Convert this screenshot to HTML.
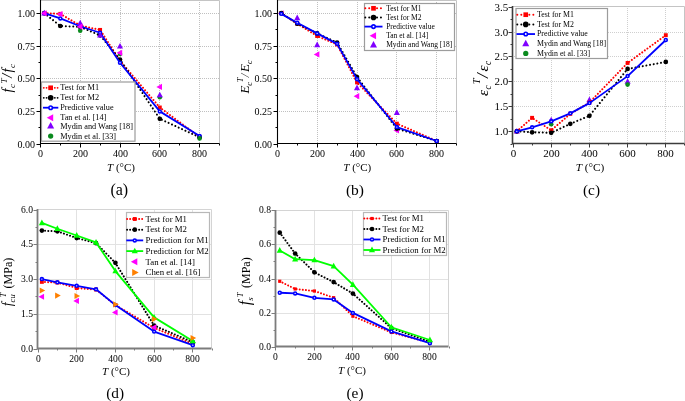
<!DOCTYPE html>
<html><head><meta charset="utf-8"><title>Figure</title>
<style>
html,body{margin:0;padding:0;background:#fff;}
body{width:685px;height:401px;overflow:hidden;}
svg{display:block;font-family:"Liberation Serif",serif;fill:#000;will-change:transform;}
</style></head><body>
<svg width="685" height="401" viewBox="0 0 685 401">
<rect width="685" height="401" fill="#fff"/>
<g>
<line x1="80.5" y1="0" x2="80.5" y2="143" stroke="#c0c0c0" stroke-width="1" stroke-dasharray="1 1"/>
<line x1="120.5" y1="0" x2="120.5" y2="143" stroke="#c0c0c0" stroke-width="1" stroke-dasharray="1 1"/>
<line x1="159.5" y1="0" x2="159.5" y2="143" stroke="#c0c0c0" stroke-width="1" stroke-dasharray="1 1"/>
<line x1="199.5" y1="0" x2="199.5" y2="143" stroke="#c0c0c0" stroke-width="1" stroke-dasharray="1 1"/>
<line x1="40" y1="111.5" x2="219" y2="111.5" stroke="#c0c0c0" stroke-width="1" stroke-dasharray="1 1"/>
<line x1="40" y1="78.5" x2="219" y2="78.5" stroke="#c0c0c0" stroke-width="1" stroke-dasharray="1 1"/>
<line x1="40" y1="46.5" x2="219" y2="46.5" stroke="#c0c0c0" stroke-width="1" stroke-dasharray="1 1"/>
<line x1="40" y1="13.5" x2="219" y2="13.5" stroke="#c0c0c0" stroke-width="1" stroke-dasharray="1 1"/>
<path d="M40 0.5 H219.5 V143" fill="none" stroke="#c4c4c4" stroke-width="1"/>
<path d="M40.5 0 V143.5 H219.5" fill="none" stroke="#000" stroke-width="1.1"/>
<path d="M44.38 13.20 L60.30 13.85 L80.20 25.59 L100.10 29.89 L120.00 60.80 L159.80 107.48 L199.60 137.08" fill="none" stroke="#ff0000" stroke-width="2.05" stroke-linecap="round" stroke-dasharray="0.01 3.2"/>
<rect x="42.43" y="11.25" width="3.90" height="3.90" fill="#ff0000"/>
<rect x="58.35" y="11.90" width="3.90" height="3.90" fill="#ff0000"/>
<rect x="78.25" y="23.64" width="3.90" height="3.90" fill="#ff0000"/>
<rect x="98.15" y="27.94" width="3.90" height="3.90" fill="#ff0000"/>
<rect x="118.05" y="58.85" width="3.90" height="3.90" fill="#ff0000"/>
<rect x="157.85" y="105.53" width="3.90" height="3.90" fill="#ff0000"/>
<rect x="197.65" y="135.13" width="3.90" height="3.90" fill="#ff0000"/>
<path d="M44.38 13.20 L60.30 25.98 L80.20 26.89 L100.10 35.37 L120.00 59.49 L159.80 118.82 L199.60 137.34" fill="none" stroke="#000000" stroke-width="2.05" stroke-linecap="round" stroke-dasharray="0.01 3.7"/>
<circle cx="44.38" cy="13.20" r="2.35" fill="#000000"/>
<circle cx="60.30" cy="25.98" r="2.35" fill="#000000"/>
<circle cx="80.20" cy="26.89" r="2.35" fill="#000000"/>
<circle cx="100.10" cy="35.37" r="2.35" fill="#000000"/>
<circle cx="120.00" cy="59.49" r="2.35" fill="#000000"/>
<circle cx="159.80" cy="118.82" r="2.35" fill="#000000"/>
<circle cx="199.60" cy="137.34" r="2.35" fill="#000000"/>
<path d="M44.38 13.20 L60.30 18.42 L80.20 26.24 L100.10 32.76 L120.00 62.75 L159.80 111.39 L199.60 136.04" fill="none" stroke="#0000ff" stroke-width="1.8" stroke-linejoin="round"/>
<circle cx="44.38" cy="13.20" r="1.45" fill="#fff" stroke="#0000ff" stroke-width="1.6"/>
<circle cx="60.30" cy="18.42" r="1.45" fill="#fff" stroke="#0000ff" stroke-width="1.6"/>
<circle cx="80.20" cy="26.24" r="1.45" fill="#fff" stroke="#0000ff" stroke-width="1.6"/>
<circle cx="100.10" cy="32.76" r="1.45" fill="#fff" stroke="#0000ff" stroke-width="1.6"/>
<circle cx="120.00" cy="62.75" r="1.45" fill="#fff" stroke="#0000ff" stroke-width="1.6"/>
<circle cx="159.80" cy="111.39" r="1.45" fill="#fff" stroke="#0000ff" stroke-width="1.6"/>
<circle cx="199.60" cy="136.04" r="1.45" fill="#fff" stroke="#0000ff" stroke-width="1.6"/>
<circle cx="80.20" cy="30.67" r="2.30" fill="#0a8a1e"/>
<circle cx="120.00" cy="53.88" r="2.30" fill="#0a8a1e"/>
<circle cx="159.80" cy="97.31" r="2.30" fill="#0a8a1e"/>
<circle cx="199.60" cy="138.38" r="2.30" fill="#0a8a1e"/>
<path d="M44.38 9.80 L47.44 15.41 L41.32 15.41Z" fill="#8000ff"/>
<path d="M80.20 19.84 L83.26 25.45 L77.14 25.45Z" fill="#8000ff"/>
<path d="M100.10 31.97 L103.16 37.58 L97.04 37.58Z" fill="#8000ff"/>
<path d="M120.00 42.92 L123.06 48.53 L116.94 48.53Z" fill="#8000ff"/>
<path d="M159.80 91.69 L162.86 97.30 L156.74 97.30Z" fill="#8000ff"/>
<path d="M40.98 13.20 L46.59 10.14 L46.59 16.26Z" fill="#ff00ff"/>
<path d="M56.90 14.11 L62.51 11.05 L62.51 17.17Z" fill="#ff00ff"/>
<path d="M76.80 26.63 L82.41 23.57 L82.41 29.69Z" fill="#ff00ff"/>
<path d="M116.60 52.84 L122.21 49.78 L122.21 55.90Z" fill="#ff00ff"/>
<path d="M156.40 86.88 L162.01 83.82 L162.01 89.94Z" fill="#ff00ff"/>
<line x1="40.5" y1="143.5" x2="40.5" y2="147.5" stroke="#000" stroke-width="1"/>
<text x="40.5" y="156.5" font-size="10" text-anchor="middle">0</text>
<line x1="80.5" y1="143.5" x2="80.5" y2="147.5" stroke="#000" stroke-width="1"/>
<text x="80.5" y="156.5" font-size="10" text-anchor="middle">200</text>
<line x1="120.5" y1="143.5" x2="120.5" y2="147.5" stroke="#000" stroke-width="1"/>
<text x="120.5" y="156.5" font-size="10" text-anchor="middle">400</text>
<line x1="159.5" y1="143.5" x2="159.5" y2="147.5" stroke="#000" stroke-width="1"/>
<text x="159.5" y="156.5" font-size="10" text-anchor="middle">600</text>
<line x1="199.5" y1="143.5" x2="199.5" y2="147.5" stroke="#000" stroke-width="1"/>
<text x="199.5" y="156.5" font-size="10" text-anchor="middle">800</text>
<line x1="60.5" y1="143.5" x2="60.5" y2="145.5" stroke="#000" stroke-width="1"/>
<line x1="100.5" y1="143.5" x2="100.5" y2="145.5" stroke="#000" stroke-width="1"/>
<line x1="139.5" y1="143.5" x2="139.5" y2="145.5" stroke="#000" stroke-width="1"/>
<line x1="179.5" y1="143.5" x2="179.5" y2="145.5" stroke="#000" stroke-width="1"/>
<line x1="219.5" y1="143.5" x2="219.5" y2="145.5" stroke="#000" stroke-width="1"/>
<line x1="36.5" y1="144.5" x2="40.5" y2="144.5" stroke="#000" stroke-width="1"/>
<text x="35" y="147.80" font-size="10" text-anchor="end">0.00</text>
<line x1="36.5" y1="111.5" x2="40.5" y2="111.5" stroke="#000" stroke-width="1"/>
<text x="35" y="114.80" font-size="10" text-anchor="end">0.25</text>
<line x1="36.5" y1="78.5" x2="40.5" y2="78.5" stroke="#000" stroke-width="1"/>
<text x="35" y="81.80" font-size="10" text-anchor="end">0.50</text>
<line x1="36.5" y1="46.5" x2="40.5" y2="46.5" stroke="#000" stroke-width="1"/>
<text x="35" y="49.80" font-size="10" text-anchor="end">0.75</text>
<line x1="36.5" y1="13.5" x2="40.5" y2="13.5" stroke="#000" stroke-width="1"/>
<text x="35" y="16.80" font-size="10" text-anchor="end">1.00</text>
<line x1="38.5" y1="127.5" x2="40.5" y2="127.5" stroke="#000" stroke-width="1"/>
<line x1="38.5" y1="95.5" x2="40.5" y2="95.5" stroke="#000" stroke-width="1"/>
<line x1="38.5" y1="62.5" x2="40.5" y2="62.5" stroke="#000" stroke-width="1"/>
<line x1="38.5" y1="29.5" x2="40.5" y2="29.5" stroke="#000" stroke-width="1"/>
<rect x="41.5" y="82.0" width="93.5" height="59.19999999999999" fill="#fff" stroke="#9c9c9c" stroke-width="1.2"/>
<line x1="43.8" y1="87.8" x2="58.3" y2="87.8" stroke="#ff0000" stroke-width="1.8" stroke-linecap="round" stroke-dasharray="0.01 2.75"/>
<rect x="48.31" y="85.46" width="4.68" height="4.68" fill="#ff0000"/>
<text x="60.2" y="90.36" font-size="8.25">Test for M1</text>
<line x1="43.8" y1="97.8" x2="58.3" y2="97.8" stroke="#000000" stroke-width="1.8" stroke-linecap="round" stroke-dasharray="0.01 2.75"/>
<circle cx="50.65" cy="97.80" r="2.82" fill="#000000"/>
<text x="60.2" y="100.36" font-size="8.25">Test for M2</text>
<line x1="43" y1="107.7" x2="58.3" y2="107.7" stroke="#0000ff" stroke-width="1.8"/>
<circle cx="50.65" cy="107.70" r="1.74" fill="#fff" stroke="#0000ff" stroke-width="1.6"/>
<text x="60.2" y="110.26" font-size="8.25">Predictive value</text>
<path d="M46.74 117.80 L53.19 114.28 L53.19 121.32Z" fill="#ff00ff"/>
<text x="60.2" y="120.36" font-size="8.25">Tan et al. [14]</text>
<path d="M50.65 122.09 L54.17 128.54 L47.13 128.54Z" fill="#8000ff"/>
<text x="60.2" y="128.56" font-size="8.25">Mydin and Wang [18]</text>
<circle cx="50.65" cy="136.10" r="2.64" fill="#0a8a1e"/>
<text x="60.2" y="138.66" font-size="8.25">Mydin et al. [33]</text>
<text x="121" y="170.7" font-size="11" text-anchor="middle"><tspan font-style="italic">T</tspan> (°C)</text>
<text x="119.3" y="194.5" font-size="16" text-anchor="middle">(a)</text>
<text transform="translate(12,78.3) rotate(-90)" font-size="14.5" font-style="italic" text-anchor="middle">f<tspan font-size="9" dy="2.5" dx="0.5">c</tspan><tspan font-size="9" dy="-8" dx="0.8">T</tspan><tspan dy="5.5" dx="0.5">/</tspan><tspan dx="1.2">f</tspan><tspan font-size="9" dy="2.5" dx="0.5">c</tspan></text>
</g>
<g>
<line x1="317.5" y1="0" x2="317.5" y2="143" stroke="#c0c0c0" stroke-width="1" stroke-dasharray="1 1"/>
<line x1="357.5" y1="0" x2="357.5" y2="143" stroke="#c0c0c0" stroke-width="1" stroke-dasharray="1 1"/>
<line x1="396.5" y1="0" x2="396.5" y2="143" stroke="#c0c0c0" stroke-width="1" stroke-dasharray="1 1"/>
<line x1="436.5" y1="0" x2="436.5" y2="143" stroke="#c0c0c0" stroke-width="1" stroke-dasharray="1 1"/>
<line x1="277" y1="111.5" x2="456" y2="111.5" stroke="#c0c0c0" stroke-width="1" stroke-dasharray="1 1"/>
<line x1="277" y1="78.5" x2="456" y2="78.5" stroke="#c0c0c0" stroke-width="1" stroke-dasharray="1 1"/>
<line x1="277" y1="46.5" x2="456" y2="46.5" stroke="#c0c0c0" stroke-width="1" stroke-dasharray="1 1"/>
<line x1="277" y1="13.5" x2="456" y2="13.5" stroke="#c0c0c0" stroke-width="1" stroke-dasharray="1 1"/>
<path d="M277 0.5 H456.5 V143" fill="none" stroke="#c4c4c4" stroke-width="1"/>
<path d="M277.5 0 V143.5 H456.5" fill="none" stroke="#000" stroke-width="1.1"/>
<path d="M277.89 13.20 L283.50 10.14 L283.50 16.26Z" fill="#ff00ff"/>
<path d="M313.76 54.41 L319.37 51.35 L319.37 57.47Z" fill="#ff00ff"/>
<path d="M353.62 96.13 L359.23 93.07 L359.23 99.19Z" fill="#ff00ff"/>
<path d="M393.48 130.56 L399.09 127.50 L399.09 133.62Z" fill="#ff00ff"/>
<path d="M297.23 14.62 L300.29 20.23 L294.17 20.23Z" fill="#8000ff"/>
<path d="M317.16 41.62 L320.22 47.23 L314.10 47.23Z" fill="#8000ff"/>
<path d="M357.02 84.52 L360.08 90.13 L353.96 90.13Z" fill="#8000ff"/>
<path d="M396.88 109.30 L399.94 114.91 L393.82 114.91Z" fill="#8000ff"/>
<path d="M281.29 13.20 L297.23 23.63 L317.16 36.02 L337.09 44.50 L357.02 82.44 L396.88 123.65 L436.74 140.99" fill="none" stroke="#ff0000" stroke-width="2.05" stroke-linecap="round" stroke-dasharray="0.01 3.2"/>
<rect x="279.34" y="11.25" width="3.90" height="3.90" fill="#ff0000"/>
<rect x="295.28" y="21.68" width="3.90" height="3.90" fill="#ff0000"/>
<rect x="315.21" y="34.07" width="3.90" height="3.90" fill="#ff0000"/>
<rect x="335.14" y="42.55" width="3.90" height="3.90" fill="#ff0000"/>
<rect x="355.07" y="80.49" width="3.90" height="3.90" fill="#ff0000"/>
<rect x="394.93" y="121.70" width="3.90" height="3.90" fill="#ff0000"/>
<rect x="434.79" y="139.04" width="3.90" height="3.90" fill="#ff0000"/>
<path d="M281.29 13.20 L297.23 23.63 L317.16 33.41 L337.09 42.54 L357.02 77.10 L396.88 128.60 L436.74 140.99" fill="none" stroke="#000000" stroke-width="2.05" stroke-linecap="round" stroke-dasharray="0.01 3.7"/>
<circle cx="281.29" cy="13.20" r="2.35" fill="#000000"/>
<circle cx="297.23" cy="23.63" r="2.35" fill="#000000"/>
<circle cx="317.16" cy="33.41" r="2.35" fill="#000000"/>
<circle cx="337.09" cy="42.54" r="2.35" fill="#000000"/>
<circle cx="357.02" cy="77.10" r="2.35" fill="#000000"/>
<circle cx="396.88" cy="128.60" r="2.35" fill="#000000"/>
<circle cx="436.74" cy="140.99" r="2.35" fill="#000000"/>
<path d="M281.29 13.85 L297.23 22.72 L317.16 33.41 L337.09 43.84 L357.02 79.18 L396.88 127.04 L436.74 140.99" fill="none" stroke="#0000ff" stroke-width="1.8" stroke-linejoin="round"/>
<circle cx="281.29" cy="13.85" r="1.45" fill="#fff" stroke="#0000ff" stroke-width="1.6"/>
<circle cx="297.23" cy="22.72" r="1.45" fill="#fff" stroke="#0000ff" stroke-width="1.6"/>
<circle cx="317.16" cy="33.41" r="1.45" fill="#fff" stroke="#0000ff" stroke-width="1.6"/>
<circle cx="337.09" cy="43.84" r="1.45" fill="#fff" stroke="#0000ff" stroke-width="1.6"/>
<circle cx="357.02" cy="79.18" r="1.45" fill="#fff" stroke="#0000ff" stroke-width="1.6"/>
<circle cx="396.88" cy="127.04" r="1.45" fill="#fff" stroke="#0000ff" stroke-width="1.6"/>
<circle cx="436.74" cy="140.99" r="1.45" fill="#fff" stroke="#0000ff" stroke-width="1.6"/>
<line x1="277.5" y1="143.5" x2="277.5" y2="147.5" stroke="#000" stroke-width="1"/>
<text x="277.5" y="156.5" font-size="10" text-anchor="middle">0</text>
<line x1="317.5" y1="143.5" x2="317.5" y2="147.5" stroke="#000" stroke-width="1"/>
<text x="317.5" y="156.5" font-size="10" text-anchor="middle">200</text>
<line x1="357.5" y1="143.5" x2="357.5" y2="147.5" stroke="#000" stroke-width="1"/>
<text x="357.5" y="156.5" font-size="10" text-anchor="middle">400</text>
<line x1="396.5" y1="143.5" x2="396.5" y2="147.5" stroke="#000" stroke-width="1"/>
<text x="396.5" y="156.5" font-size="10" text-anchor="middle">600</text>
<line x1="436.5" y1="143.5" x2="436.5" y2="147.5" stroke="#000" stroke-width="1"/>
<text x="436.5" y="156.5" font-size="10" text-anchor="middle">800</text>
<line x1="297.5" y1="143.5" x2="297.5" y2="145.5" stroke="#000" stroke-width="1"/>
<line x1="337.5" y1="143.5" x2="337.5" y2="145.5" stroke="#000" stroke-width="1"/>
<line x1="376.5" y1="143.5" x2="376.5" y2="145.5" stroke="#000" stroke-width="1"/>
<line x1="416.5" y1="143.5" x2="416.5" y2="145.5" stroke="#000" stroke-width="1"/>
<line x1="456.5" y1="143.5" x2="456.5" y2="145.5" stroke="#000" stroke-width="1"/>
<line x1="273.5" y1="144.5" x2="277.5" y2="144.5" stroke="#000" stroke-width="1"/>
<text x="272" y="147.80" font-size="10" text-anchor="end">0.00</text>
<line x1="273.5" y1="111.5" x2="277.5" y2="111.5" stroke="#000" stroke-width="1"/>
<text x="272" y="114.80" font-size="10" text-anchor="end">0.25</text>
<line x1="273.5" y1="78.5" x2="277.5" y2="78.5" stroke="#000" stroke-width="1"/>
<text x="272" y="81.80" font-size="10" text-anchor="end">0.50</text>
<line x1="273.5" y1="46.5" x2="277.5" y2="46.5" stroke="#000" stroke-width="1"/>
<text x="272" y="49.80" font-size="10" text-anchor="end">0.75</text>
<line x1="273.5" y1="13.5" x2="277.5" y2="13.5" stroke="#000" stroke-width="1"/>
<text x="272" y="16.80" font-size="10" text-anchor="end">1.00</text>
<line x1="275.5" y1="127.5" x2="277.5" y2="127.5" stroke="#000" stroke-width="1"/>
<line x1="275.5" y1="95.5" x2="277.5" y2="95.5" stroke="#000" stroke-width="1"/>
<line x1="275.5" y1="62.5" x2="277.5" y2="62.5" stroke="#000" stroke-width="1"/>
<line x1="275.5" y1="29.5" x2="277.5" y2="29.5" stroke="#000" stroke-width="1"/>
<rect x="364.5" y="3.5" width="90" height="47" fill="#fff" stroke="#9c9c9c" stroke-width="1.2"/>
<line x1="365.3" y1="8.3" x2="382.5" y2="8.3" stroke="#ff0000" stroke-width="2.0" stroke-linecap="round" stroke-dasharray="0.01 3.9"/>
<rect x="371.16" y="5.96" width="4.68" height="4.68" fill="#ff0000"/>
<text x="386.2" y="10.62" font-size="7.5">Test for M1</text>
<line x1="365.3" y1="17.450000000000003" x2="382.5" y2="17.450000000000003" stroke="#000000" stroke-width="2.0" stroke-linecap="round" stroke-dasharray="0.01 3.9"/>
<circle cx="373.50" cy="17.45" r="2.82" fill="#000000"/>
<text x="386.2" y="19.78" font-size="7.5">Test for M2</text>
<line x1="364.5" y1="26.6" x2="382.5" y2="26.6" stroke="#0000ff" stroke-width="1.8"/>
<circle cx="373.50" cy="26.60" r="1.74" fill="#fff" stroke="#0000ff" stroke-width="1.6"/>
<text x="386.2" y="28.93" font-size="7.5">Predictive value</text>
<path d="M369.59 35.75 L376.04 32.23 L376.04 39.27Z" fill="#ff00ff"/>
<text x="386.2" y="38.08" font-size="7.5">Tan et al. [14]</text>
<path d="M373.50 40.99 L377.02 47.44 L369.98 47.44Z" fill="#8000ff"/>
<text x="386.2" y="47.23" font-size="7.5">Mydin and Wang [18]</text>
<text x="357.3" y="170.5" font-size="11" text-anchor="middle"><tspan font-style="italic">T</tspan> (°C)</text>
<text x="355" y="194.7" font-size="15.5" text-anchor="middle">(b)</text>
<text transform="translate(248.5,76.9) rotate(-90)" font-size="13" font-style="italic" text-anchor="middle">E<tspan font-size="8.5" dy="3">c</tspan><tspan font-size="8.5" dy="-8.4" dx="-0.3">T</tspan><tspan dy="5.4" dx="0.3">/</tspan><tspan dx="1.6">E</tspan><tspan font-size="8.5" dy="3">c</tspan></text>
</g>
<g>
<line x1="551.5" y1="6" x2="551.5" y2="143" stroke="#cfcfcf" stroke-width="1" stroke-dasharray="1 1"/>
<line x1="589.5" y1="6" x2="589.5" y2="143" stroke="#cfcfcf" stroke-width="1" stroke-dasharray="1 1"/>
<line x1="627.5" y1="6" x2="627.5" y2="143" stroke="#cfcfcf" stroke-width="1" stroke-dasharray="1 1"/>
<line x1="665.5" y1="6" x2="665.5" y2="143" stroke="#cfcfcf" stroke-width="1" stroke-dasharray="1 1"/>
<line x1="512" y1="131.5" x2="684" y2="131.5" stroke="#cfcfcf" stroke-width="1" stroke-dasharray="1 1"/>
<line x1="512" y1="106.5" x2="684" y2="106.5" stroke="#cfcfcf" stroke-width="1" stroke-dasharray="1 1"/>
<line x1="512" y1="81.5" x2="684" y2="81.5" stroke="#cfcfcf" stroke-width="1" stroke-dasharray="1 1"/>
<line x1="512" y1="56.5" x2="684" y2="56.5" stroke="#cfcfcf" stroke-width="1" stroke-dasharray="1 1"/>
<line x1="512" y1="32.5" x2="684" y2="32.5" stroke="#cfcfcf" stroke-width="1" stroke-dasharray="1 1"/>
<path d="M512 6.5 H684.5 V143" fill="none" stroke="#c4c4c4" stroke-width="1"/>
<path d="M512.5 6 V143.5 H684.5" fill="none" stroke="#3c3c3c" stroke-width="1.6"/>
<path d="M516.82 127.90 L519.88 133.51 L513.76 133.51Z" fill="#8000ff"/>
<path d="M551.20 116.67 L554.26 122.28 L548.14 122.28Z" fill="#8000ff"/>
<path d="M589.40 96.56 L592.46 102.17 L586.34 102.17Z" fill="#8000ff"/>
<path d="M627.60 78.20 L630.66 83.81 L624.54 83.81Z" fill="#8000ff"/>
<circle cx="551.20" cy="124.31" r="2.30" fill="#0a8a1e"/>
<circle cx="627.60" cy="84.59" r="2.30" fill="#0a8a1e"/>
<path d="M516.82 131.30 L532.10 117.83 L551.20 130.30 L570.30 113.84 L589.40 102.61 L627.60 62.94 L665.80 35.19" fill="none" stroke="#ff0000" stroke-width="2.05" stroke-linecap="round" stroke-dasharray="0.01 3.2"/>
<rect x="514.87" y="129.35" width="3.90" height="3.90" fill="#ff0000"/>
<rect x="530.15" y="115.88" width="3.90" height="3.90" fill="#ff0000"/>
<rect x="549.25" y="128.35" width="3.90" height="3.90" fill="#ff0000"/>
<rect x="568.35" y="111.89" width="3.90" height="3.90" fill="#ff0000"/>
<rect x="587.45" y="100.66" width="3.90" height="3.90" fill="#ff0000"/>
<rect x="625.65" y="60.99" width="3.90" height="3.90" fill="#ff0000"/>
<rect x="663.85" y="33.24" width="3.90" height="3.90" fill="#ff0000"/>
<path d="M516.82 131.30 L532.10 132.30 L551.20 132.80 L570.30 123.82 L589.40 115.83 L627.60 68.93 L665.80 61.94" fill="none" stroke="#000000" stroke-width="2.05" stroke-linecap="round" stroke-dasharray="0.01 3.7"/>
<circle cx="516.82" cy="131.30" r="2.35" fill="#000000"/>
<circle cx="532.10" cy="132.30" r="2.35" fill="#000000"/>
<circle cx="551.20" cy="132.80" r="2.35" fill="#000000"/>
<circle cx="570.30" cy="123.82" r="2.35" fill="#000000"/>
<circle cx="589.40" cy="115.83" r="2.35" fill="#000000"/>
<circle cx="627.60" cy="68.93" r="2.35" fill="#000000"/>
<circle cx="665.80" cy="61.94" r="2.35" fill="#000000"/>
<path d="M516.82 131.30 L532.10 127.31 L551.20 121.32 L570.30 113.34 L589.40 103.11 L627.60 76.11 L665.80 39.98" fill="none" stroke="#0000ff" stroke-width="1.8" stroke-linejoin="round"/>
<circle cx="516.82" cy="131.30" r="1.45" fill="#fff" stroke="#0000ff" stroke-width="1.6"/>
<circle cx="532.10" cy="127.31" r="1.45" fill="#fff" stroke="#0000ff" stroke-width="1.6"/>
<circle cx="551.20" cy="121.32" r="1.45" fill="#fff" stroke="#0000ff" stroke-width="1.6"/>
<circle cx="570.30" cy="113.34" r="1.45" fill="#fff" stroke="#0000ff" stroke-width="1.6"/>
<circle cx="589.40" cy="103.11" r="1.45" fill="#fff" stroke="#0000ff" stroke-width="1.6"/>
<circle cx="627.60" cy="76.11" r="1.45" fill="#fff" stroke="#0000ff" stroke-width="1.6"/>
<circle cx="665.80" cy="39.98" r="1.45" fill="#fff" stroke="#0000ff" stroke-width="1.6"/>
<line x1="513.5" y1="143.5" x2="513.5" y2="147.5" stroke="#3c3c3c" stroke-width="1"/>
<text x="513.5" y="157.3" font-size="11" text-anchor="middle">0</text>
<line x1="551.5" y1="143.5" x2="551.5" y2="147.5" stroke="#3c3c3c" stroke-width="1"/>
<text x="551.5" y="157.3" font-size="11" text-anchor="middle">200</text>
<line x1="589.5" y1="143.5" x2="589.5" y2="147.5" stroke="#3c3c3c" stroke-width="1"/>
<text x="589.5" y="157.3" font-size="11" text-anchor="middle">400</text>
<line x1="627.5" y1="143.5" x2="627.5" y2="147.5" stroke="#3c3c3c" stroke-width="1"/>
<text x="627.5" y="157.3" font-size="11" text-anchor="middle">600</text>
<line x1="665.5" y1="143.5" x2="665.5" y2="147.5" stroke="#3c3c3c" stroke-width="1"/>
<text x="665.5" y="157.3" font-size="11" text-anchor="middle">800</text>
<line x1="532.5" y1="143.5" x2="532.5" y2="145.5" stroke="#3c3c3c" stroke-width="1"/>
<line x1="570.5" y1="143.5" x2="570.5" y2="145.5" stroke="#3c3c3c" stroke-width="1"/>
<line x1="608.5" y1="143.5" x2="608.5" y2="145.5" stroke="#3c3c3c" stroke-width="1"/>
<line x1="646.5" y1="143.5" x2="646.5" y2="145.5" stroke="#3c3c3c" stroke-width="1"/>
<line x1="684.5" y1="143.5" x2="684.5" y2="145.5" stroke="#3c3c3c" stroke-width="1"/>
<line x1="508.5" y1="131.5" x2="512.5" y2="131.5" stroke="#3c3c3c" stroke-width="1"/>
<text x="508.3" y="134.53" font-size="11" text-anchor="end">1.0</text>
<line x1="508.5" y1="106.5" x2="512.5" y2="106.5" stroke="#3c3c3c" stroke-width="1"/>
<text x="508.3" y="109.53" font-size="11" text-anchor="end">1.5</text>
<line x1="508.5" y1="81.5" x2="512.5" y2="81.5" stroke="#3c3c3c" stroke-width="1"/>
<text x="508.3" y="84.53" font-size="11" text-anchor="end">2.0</text>
<line x1="508.5" y1="56.5" x2="512.5" y2="56.5" stroke="#3c3c3c" stroke-width="1"/>
<text x="508.3" y="59.53" font-size="11" text-anchor="end">2.5</text>
<line x1="508.5" y1="32.5" x2="512.5" y2="32.5" stroke="#3c3c3c" stroke-width="1"/>
<text x="508.3" y="35.53" font-size="11" text-anchor="end">3.0</text>
<line x1="508.5" y1="7.5" x2="512.5" y2="7.5" stroke="#3c3c3c" stroke-width="1"/>
<text x="508.3" y="10.53" font-size="11" text-anchor="end">3.5</text>
<line x1="510.5" y1="144.5" x2="512.5" y2="144.5" stroke="#3c3c3c" stroke-width="1"/>
<line x1="510.5" y1="119.5" x2="512.5" y2="119.5" stroke="#3c3c3c" stroke-width="1"/>
<line x1="510.5" y1="94.5" x2="512.5" y2="94.5" stroke="#3c3c3c" stroke-width="1"/>
<line x1="510.5" y1="69.5" x2="512.5" y2="69.5" stroke="#3c3c3c" stroke-width="1"/>
<line x1="510.5" y1="44.5" x2="512.5" y2="44.5" stroke="#3c3c3c" stroke-width="1"/>
<line x1="510.5" y1="19.5" x2="512.5" y2="19.5" stroke="#3c3c3c" stroke-width="1"/>
<rect x="516.0" y="8.5" width="91.5" height="50" fill="#fff" stroke="#9c9c9c" stroke-width="1.2"/>
<line x1="517.3" y1="14.7" x2="535" y2="14.7" stroke="#ff0000" stroke-width="2.0" stroke-linecap="round" stroke-dasharray="0.01 4.0"/>
<rect x="523.41" y="12.36" width="4.68" height="4.68" fill="#ff0000"/>
<text x="537" y="17.13" font-size="7.85">Test for M1</text>
<line x1="517.3" y1="24.38" x2="535" y2="24.38" stroke="#000000" stroke-width="2.0" stroke-linecap="round" stroke-dasharray="0.01 4.0"/>
<circle cx="525.75" cy="24.38" r="2.82" fill="#000000"/>
<text x="537" y="26.81" font-size="7.85">Test for M2</text>
<line x1="516.5" y1="34.06" x2="535" y2="34.06" stroke="#0000ff" stroke-width="1.8"/>
<circle cx="525.75" cy="34.06" r="1.74" fill="#fff" stroke="#0000ff" stroke-width="1.6"/>
<text x="537" y="36.49" font-size="7.85">Predictive value</text>
<path d="M525.75 39.83 L529.27 46.28 L522.23 46.28Z" fill="#8000ff"/>
<text x="537" y="46.17" font-size="7.85">Mydin and Wang [18]</text>
<circle cx="525.75" cy="53.42" r="2.64" fill="#0a8a1e"/>
<text x="537" y="55.85" font-size="7.85">Mydin et al. [33]</text>
<text x="590" y="171" font-size="11.3" text-anchor="middle"><tspan font-style="italic">T</tspan> (°C)</text>
<text x="591.5" y="194.5" font-size="15.3" text-anchor="middle">(c)</text>
<text transform="translate(487.5,78.4) rotate(-90)" font-size="15.5" font-style="italic" text-anchor="middle">ε<tspan font-size="9.5" dy="3.5" dx="0.5">c</tspan><tspan font-size="10.5" dy="-11" dx="1">T</tspan><tspan dy="7.5" dx="0.3" font-size="17">/</tspan><tspan dx="1.7">ε</tspan><tspan font-size="9.5" dy="3.5" dx="0.5">c</tspan></text>
</g>
<g>
<line x1="76.5" y1="209" x2="76.5" y2="348" stroke="#e2e2e2" stroke-width="1"/>
<line x1="115.5" y1="209" x2="115.5" y2="348" stroke="#e2e2e2" stroke-width="1"/>
<line x1="154.5" y1="209" x2="154.5" y2="348" stroke="#e2e2e2" stroke-width="1"/>
<line x1="192.5" y1="209" x2="192.5" y2="348" stroke="#e2e2e2" stroke-width="1"/>
<line x1="37" y1="314.5" x2="211" y2="314.5" stroke="#e2e2e2" stroke-width="1"/>
<line x1="37" y1="279.5" x2="211" y2="279.5" stroke="#e2e2e2" stroke-width="1"/>
<line x1="37" y1="244.5" x2="211" y2="244.5" stroke="#e2e2e2" stroke-width="1"/>
<path d="M37 209.5 H211.5 V348" fill="none" stroke="#d4d4d4" stroke-width="1"/>
<path d="M37.5 209 V348.5 H211.5" fill="none" stroke="#7c7c7c" stroke-width="1.8"/>
<path d="M41.87 281.88 L57.35 282.58 L76.70 288.03 L96.05 289.54 L115.40 305.08 L154.10 327.82 L192.80 344.06" fill="none" stroke="#ff0000" stroke-width="2.0" stroke-linecap="round" stroke-dasharray="0.01 3.1"/>
<rect x="39.92" y="279.93" width="3.90" height="3.90" fill="#ff0000"/>
<rect x="55.40" y="280.63" width="3.90" height="3.90" fill="#ff0000"/>
<rect x="74.75" y="286.08" width="3.90" height="3.90" fill="#ff0000"/>
<rect x="94.10" y="287.59" width="3.90" height="3.90" fill="#ff0000"/>
<rect x="113.45" y="303.13" width="3.90" height="3.90" fill="#ff0000"/>
<rect x="152.15" y="325.87" width="3.90" height="3.90" fill="#ff0000"/>
<rect x="190.85" y="342.11" width="3.90" height="3.90" fill="#ff0000"/>
<path d="M41.87 230.61 L57.35 231.31 L76.70 238.04 L96.05 243.14 L115.40 262.86 L154.10 325.50 L192.80 342.20" fill="none" stroke="#000000" stroke-width="2.0" stroke-linecap="round" stroke-dasharray="0.01 3.2"/>
<circle cx="41.87" cy="230.61" r="2.35" fill="#000000"/>
<circle cx="57.35" cy="231.31" r="2.35" fill="#000000"/>
<circle cx="76.70" cy="238.04" r="2.35" fill="#000000"/>
<circle cx="96.05" cy="243.14" r="2.35" fill="#000000"/>
<circle cx="115.40" cy="262.86" r="2.35" fill="#000000"/>
<circle cx="154.10" cy="325.50" r="2.35" fill="#000000"/>
<circle cx="192.80" cy="342.20" r="2.35" fill="#000000"/>
<path d="M41.87 279.10 L57.35 282.35 L76.70 285.83 L96.05 289.31 L115.40 305.08 L154.10 331.53 L192.80 345.22" fill="none" stroke="#0000ff" stroke-width="1.8" stroke-linejoin="round"/>
<circle cx="41.87" cy="279.10" r="1.45" fill="#fff" stroke="#0000ff" stroke-width="1.6"/>
<circle cx="57.35" cy="282.35" r="1.45" fill="#fff" stroke="#0000ff" stroke-width="1.6"/>
<circle cx="76.70" cy="285.83" r="1.45" fill="#fff" stroke="#0000ff" stroke-width="1.6"/>
<circle cx="96.05" cy="289.31" r="1.45" fill="#fff" stroke="#0000ff" stroke-width="1.6"/>
<circle cx="115.40" cy="305.08" r="1.45" fill="#fff" stroke="#0000ff" stroke-width="1.6"/>
<circle cx="154.10" cy="331.53" r="1.45" fill="#fff" stroke="#0000ff" stroke-width="1.6"/>
<circle cx="192.80" cy="345.22" r="1.45" fill="#fff" stroke="#0000ff" stroke-width="1.6"/>
<path d="M41.87 222.96 L57.35 228.76 L76.70 235.48 L96.05 242.44 L115.40 271.10 L154.10 317.38 L192.80 341.04" fill="none" stroke="#00ff00" stroke-width="1.8" stroke-linejoin="round"/>
<path d="M41.87 219.56 L44.93 225.17 L38.81 225.17Z" fill="#00ff00"/>
<path d="M57.35 225.36 L60.41 230.97 L54.29 230.97Z" fill="#00ff00"/>
<path d="M76.70 232.08 L79.76 237.69 L73.64 237.69Z" fill="#00ff00"/>
<path d="M96.05 239.04 L99.11 244.65 L92.99 244.65Z" fill="#00ff00"/>
<path d="M115.40 267.70 L118.46 273.31 L112.34 273.31Z" fill="#00ff00"/>
<path d="M154.10 313.98 L157.16 319.59 L151.04 319.59Z" fill="#00ff00"/>
<path d="M192.80 337.64 L195.86 343.25 L189.74 343.25Z" fill="#00ff00"/>
<path d="M38.47 296.73 L44.08 293.67 L44.08 299.79Z" fill="#ff00ff"/>
<path d="M73.30 300.91 L78.91 297.85 L78.91 303.97Z" fill="#ff00ff"/>
<path d="M112.00 312.39 L117.61 309.33 L117.61 315.45Z" fill="#ff00ff"/>
<path d="M150.70 327.36 L156.31 324.30 L156.31 330.42Z" fill="#ff00ff"/>
<path d="M45.27 290.47 L39.66 287.41 L39.66 293.53Z" fill="#ff8000"/>
<path d="M60.75 295.57 L55.14 292.51 L55.14 298.63Z" fill="#ff8000"/>
<path d="M80.10 296.04 L74.49 292.98 L74.49 299.10Z" fill="#ff8000"/>
<path d="M118.80 304.39 L113.19 301.33 L113.19 307.45Z" fill="#ff8000"/>
<path d="M157.50 319.10 L151.89 316.04 L151.89 322.16Z" fill="#ff8000"/>
<path d="M196.20 338.03 L190.59 334.97 L190.59 341.09Z" fill="#ff8000"/>
<line x1="38.5" y1="348.5" x2="38.5" y2="352.5" stroke="#7c7c7c" stroke-width="1"/>
<text x="38.5" y="361.5" font-size="9.6" text-anchor="middle">0</text>
<line x1="76.5" y1="348.5" x2="76.5" y2="352.5" stroke="#7c7c7c" stroke-width="1"/>
<text x="76.5" y="361.5" font-size="9.6" text-anchor="middle">200</text>
<line x1="115.5" y1="348.5" x2="115.5" y2="352.5" stroke="#7c7c7c" stroke-width="1"/>
<text x="115.5" y="361.5" font-size="9.6" text-anchor="middle">400</text>
<line x1="154.5" y1="348.5" x2="154.5" y2="352.5" stroke="#7c7c7c" stroke-width="1"/>
<text x="154.5" y="361.5" font-size="9.6" text-anchor="middle">600</text>
<line x1="192.5" y1="348.5" x2="192.5" y2="352.5" stroke="#7c7c7c" stroke-width="1"/>
<text x="192.5" y="361.5" font-size="9.6" text-anchor="middle">800</text>
<line x1="57.5" y1="348.5" x2="57.5" y2="350.5" stroke="#7c7c7c" stroke-width="1"/>
<line x1="96.5" y1="348.5" x2="96.5" y2="350.5" stroke="#7c7c7c" stroke-width="1"/>
<line x1="134.5" y1="348.5" x2="134.5" y2="350.5" stroke="#7c7c7c" stroke-width="1"/>
<line x1="173.5" y1="348.5" x2="173.5" y2="350.5" stroke="#7c7c7c" stroke-width="1"/>
<line x1="212.5" y1="348.5" x2="212.5" y2="350.5" stroke="#7c7c7c" stroke-width="1"/>
<line x1="33.5" y1="349.5" x2="37.5" y2="349.5" stroke="#7c7c7c" stroke-width="1"/>
<text x="33" y="352.27" font-size="9.6" text-anchor="end">0.0</text>
<line x1="33.5" y1="314.5" x2="37.5" y2="314.5" stroke="#7c7c7c" stroke-width="1"/>
<text x="33" y="317.27" font-size="9.6" text-anchor="end">1.5</text>
<line x1="33.5" y1="279.5" x2="37.5" y2="279.5" stroke="#7c7c7c" stroke-width="1"/>
<text x="33" y="282.27" font-size="9.6" text-anchor="end">3.0</text>
<line x1="33.5" y1="244.5" x2="37.5" y2="244.5" stroke="#7c7c7c" stroke-width="1"/>
<text x="33" y="247.27" font-size="9.6" text-anchor="end">4.5</text>
<line x1="33.5" y1="210.5" x2="37.5" y2="210.5" stroke="#7c7c7c" stroke-width="1"/>
<text x="33" y="213.27" font-size="9.6" text-anchor="end">6.0</text>
<line x1="35.5" y1="331.5" x2="37.5" y2="331.5" stroke="#7c7c7c" stroke-width="1"/>
<line x1="35.5" y1="296.5" x2="37.5" y2="296.5" stroke="#7c7c7c" stroke-width="1"/>
<line x1="35.5" y1="262.5" x2="37.5" y2="262.5" stroke="#7c7c7c" stroke-width="1"/>
<line x1="35.5" y1="227.5" x2="37.5" y2="227.5" stroke="#7c7c7c" stroke-width="1"/>
<rect x="126.5" y="212.5" width="83" height="65" fill="#fff" stroke="#b8b8b8" stroke-width="1.2"/>
<line x1="127.1" y1="219.0" x2="143.2" y2="219.0" stroke="#ff0000" stroke-width="2.0" stroke-linecap="round" stroke-dasharray="0.01 3.0"/>
<rect x="132.80" y="217.05" width="3.90" height="3.90" fill="#ff0000"/>
<text x="145.6" y="221.73" font-size="8.8">Test for M1</text>
<line x1="127.1" y1="229.7" x2="143.2" y2="229.7" stroke="#000000" stroke-width="2.0" stroke-linecap="round" stroke-dasharray="0.01 3.0"/>
<circle cx="134.75" cy="229.70" r="2.35" fill="#000000"/>
<text x="145.6" y="232.43" font-size="8.8">Test for M2</text>
<line x1="126.3" y1="240.4" x2="143.2" y2="240.4" stroke="#0000ff" stroke-width="1.8"/>
<circle cx="134.75" cy="240.40" r="1.45" fill="#fff" stroke="#0000ff" stroke-width="1.6"/>
<text x="145.6" y="243.13" font-size="8.8">Prediction for M1</text>
<line x1="126.3" y1="251.1" x2="143.2" y2="251.1" stroke="#00ff00" stroke-width="1.8"/>
<path d="M134.75 247.70 L137.81 253.31 L131.69 253.31Z" fill="#00ff00"/>
<text x="145.6" y="253.83" font-size="8.8">Prediction for M2</text>
<path d="M130.84 261.80 L137.29 258.28 L137.29 265.32Z" fill="#ff00ff"/>
<text x="145.6" y="264.53" font-size="8.8">Tan et al. [14]</text>
<path d="M138.66 272.50 L132.21 268.98 L132.21 276.02Z" fill="#ff8000"/>
<text x="145.6" y="275.23" font-size="8.8">Chen et al. [16]</text>
<text x="116" y="374.5" font-size="11" text-anchor="middle"><tspan font-style="italic">T</tspan> (°C)</text>
<text x="115.2" y="397.8" font-size="15.3" text-anchor="middle">(d)</text>
<text transform="translate(12.2,282) rotate(-90)" font-size="12" text-anchor="middle"><tspan font-style="italic" font-size="14">f</tspan><tspan font-size="8.5" dy="2.5" font-style="italic">cu</tspan><tspan font-size="8" dy="-9" dx="-3" font-style="italic">T</tspan><tspan dy="6.5" dx="1.5"> (MPa)</tspan></text>
</g>
<g>
<line x1="314.5" y1="210" x2="314.5" y2="346" stroke="#e2e2e2" stroke-width="1"/>
<line x1="352.5" y1="210" x2="352.5" y2="346" stroke="#e2e2e2" stroke-width="1"/>
<line x1="391.5" y1="210" x2="391.5" y2="346" stroke="#e2e2e2" stroke-width="1"/>
<line x1="429.5" y1="210" x2="429.5" y2="346" stroke="#e2e2e2" stroke-width="1"/>
<line x1="275" y1="313.5" x2="448" y2="313.5" stroke="#e2e2e2" stroke-width="1"/>
<line x1="275" y1="279.5" x2="448" y2="279.5" stroke="#e2e2e2" stroke-width="1"/>
<line x1="275" y1="244.5" x2="448" y2="244.5" stroke="#e2e2e2" stroke-width="1"/>
<path d="M275 210.5 H448.5 V346" fill="none" stroke="#d4d4d4" stroke-width="1"/>
<path d="M275.5 210 V346.5 H448.5" fill="none" stroke="#7c7c7c" stroke-width="1.8"/>
<path d="M279.75 281.26 L295.15 288.96 L314.40 291.02 L333.65 297.69 L352.90 316.18 L391.40 332.45 L429.90 342.72" fill="none" stroke="#ff0000" stroke-width="2.0" stroke-linecap="round" stroke-dasharray="0.01 3.1"/>
<rect x="278.15" y="279.66" width="3.20" height="3.20" fill="#ff0000"/>
<rect x="293.55" y="287.36" width="3.20" height="3.20" fill="#ff0000"/>
<rect x="312.80" y="289.42" width="3.20" height="3.20" fill="#ff0000"/>
<rect x="332.05" y="296.10" width="3.20" height="3.20" fill="#ff0000"/>
<rect x="351.30" y="314.59" width="3.20" height="3.20" fill="#ff0000"/>
<rect x="389.80" y="330.85" width="3.20" height="3.20" fill="#ff0000"/>
<rect x="428.30" y="341.12" width="3.20" height="3.20" fill="#ff0000"/>
<path d="M279.75 232.64 L295.15 253.52 L314.40 272.36 L333.65 282.12 L352.90 293.59 L391.40 328.17 L429.90 341.86" fill="none" stroke="#000000" stroke-width="2.0" stroke-linecap="round" stroke-dasharray="0.01 3.2"/>
<circle cx="279.75" cy="232.64" r="2.35" fill="#000000"/>
<circle cx="295.15" cy="253.52" r="2.35" fill="#000000"/>
<circle cx="314.40" cy="272.36" r="2.35" fill="#000000"/>
<circle cx="333.65" cy="282.12" r="2.35" fill="#000000"/>
<circle cx="352.90" cy="293.59" r="2.35" fill="#000000"/>
<circle cx="391.40" cy="328.17" r="2.35" fill="#000000"/>
<circle cx="429.90" cy="341.86" r="2.35" fill="#000000"/>
<path d="M279.75 292.73 L295.15 293.41 L314.40 297.87 L333.65 299.41 L352.90 312.93 L391.40 331.42 L429.90 343.15" fill="none" stroke="#0000ff" stroke-width="1.8" stroke-linejoin="round"/>
<circle cx="279.75" cy="292.73" r="1.45" fill="#fff" stroke="#0000ff" stroke-width="1.6"/>
<circle cx="295.15" cy="293.41" r="1.45" fill="#fff" stroke="#0000ff" stroke-width="1.6"/>
<circle cx="314.40" cy="297.87" r="1.45" fill="#fff" stroke="#0000ff" stroke-width="1.6"/>
<circle cx="333.65" cy="299.41" r="1.45" fill="#fff" stroke="#0000ff" stroke-width="1.6"/>
<circle cx="352.90" cy="312.93" r="1.45" fill="#fff" stroke="#0000ff" stroke-width="1.6"/>
<circle cx="391.40" cy="331.42" r="1.45" fill="#fff" stroke="#0000ff" stroke-width="1.6"/>
<circle cx="429.90" cy="343.15" r="1.45" fill="#fff" stroke="#0000ff" stroke-width="1.6"/>
<path d="M279.75 250.44 L295.15 259.17 L314.40 260.03 L333.65 266.19 L352.90 284.68 L391.40 327.23 L429.90 339.98" fill="none" stroke="#00ff00" stroke-width="1.8" stroke-linejoin="round"/>
<path d="M279.75 247.04 L282.81 252.65 L276.69 252.65Z" fill="#00ff00"/>
<path d="M295.15 255.77 L298.21 261.38 L292.09 261.38Z" fill="#00ff00"/>
<path d="M314.40 256.63 L317.46 262.24 L311.34 262.24Z" fill="#00ff00"/>
<path d="M333.65 262.79 L336.71 268.40 L330.59 268.40Z" fill="#00ff00"/>
<path d="M352.90 281.28 L355.96 286.89 L349.84 286.89Z" fill="#00ff00"/>
<path d="M391.40 323.83 L394.46 329.44 L388.34 329.44Z" fill="#00ff00"/>
<path d="M429.90 336.58 L432.96 342.19 L426.84 342.19Z" fill="#00ff00"/>
<line x1="275.5" y1="346.5" x2="275.5" y2="350.5" stroke="#7c7c7c" stroke-width="1"/>
<text x="275.5" y="359.5" font-size="9.6" text-anchor="middle">0</text>
<line x1="314.5" y1="346.5" x2="314.5" y2="350.5" stroke="#7c7c7c" stroke-width="1"/>
<text x="314.5" y="359.5" font-size="9.6" text-anchor="middle">200</text>
<line x1="352.5" y1="346.5" x2="352.5" y2="350.5" stroke="#7c7c7c" stroke-width="1"/>
<text x="352.5" y="359.5" font-size="9.6" text-anchor="middle">400</text>
<line x1="391.5" y1="346.5" x2="391.5" y2="350.5" stroke="#7c7c7c" stroke-width="1"/>
<text x="391.5" y="359.5" font-size="9.6" text-anchor="middle">600</text>
<line x1="429.5" y1="346.5" x2="429.5" y2="350.5" stroke="#7c7c7c" stroke-width="1"/>
<text x="429.5" y="359.5" font-size="9.6" text-anchor="middle">800</text>
<line x1="295.5" y1="346.5" x2="295.5" y2="348.5" stroke="#7c7c7c" stroke-width="1"/>
<line x1="333.5" y1="346.5" x2="333.5" y2="348.5" stroke="#7c7c7c" stroke-width="1"/>
<line x1="372.5" y1="346.5" x2="372.5" y2="348.5" stroke="#7c7c7c" stroke-width="1"/>
<line x1="410.5" y1="346.5" x2="410.5" y2="348.5" stroke="#7c7c7c" stroke-width="1"/>
<line x1="449.5" y1="346.5" x2="449.5" y2="348.5" stroke="#7c7c7c" stroke-width="1"/>
<line x1="271.5" y1="347.5" x2="275.5" y2="347.5" stroke="#7c7c7c" stroke-width="1"/>
<text x="271" y="350.27" font-size="9.6" text-anchor="end">0.0</text>
<line x1="271.5" y1="313.5" x2="275.5" y2="313.5" stroke="#7c7c7c" stroke-width="1"/>
<text x="271" y="316.27" font-size="9.6" text-anchor="end">0.2</text>
<line x1="271.5" y1="279.5" x2="275.5" y2="279.5" stroke="#7c7c7c" stroke-width="1"/>
<text x="271" y="282.27" font-size="9.6" text-anchor="end">0.4</text>
<line x1="271.5" y1="244.5" x2="275.5" y2="244.5" stroke="#7c7c7c" stroke-width="1"/>
<text x="271" y="247.27" font-size="9.6" text-anchor="end">0.6</text>
<line x1="271.5" y1="210.5" x2="275.5" y2="210.5" stroke="#7c7c7c" stroke-width="1"/>
<text x="271" y="213.27" font-size="9.6" text-anchor="end">0.8</text>
<line x1="273.5" y1="330.5" x2="275.5" y2="330.5" stroke="#7c7c7c" stroke-width="1"/>
<line x1="273.5" y1="296.5" x2="275.5" y2="296.5" stroke="#7c7c7c" stroke-width="1"/>
<line x1="273.5" y1="261.5" x2="275.5" y2="261.5" stroke="#7c7c7c" stroke-width="1"/>
<line x1="273.5" y1="227.5" x2="275.5" y2="227.5" stroke="#7c7c7c" stroke-width="1"/>
<rect x="363.5" y="212.5" width="83" height="43" fill="#fff" stroke="#b8b8b8" stroke-width="1.2"/>
<line x1="364.3" y1="218.5" x2="380.5" y2="218.5" stroke="#ff0000" stroke-width="2.0" stroke-linecap="round" stroke-dasharray="0.01 3.0"/>
<rect x="370.40" y="216.90" width="3.20" height="3.20" fill="#ff0000"/>
<text x="382.6" y="221.23" font-size="8.8">Test for M1</text>
<line x1="364.3" y1="229.0" x2="380.5" y2="229.0" stroke="#000000" stroke-width="2.0" stroke-linecap="round" stroke-dasharray="0.01 3.0"/>
<circle cx="372.00" cy="229.00" r="2.35" fill="#000000"/>
<text x="382.6" y="231.73" font-size="8.8">Test for M2</text>
<line x1="363.5" y1="239.5" x2="380.5" y2="239.5" stroke="#0000ff" stroke-width="1.8"/>
<circle cx="372.00" cy="239.50" r="1.45" fill="#fff" stroke="#0000ff" stroke-width="1.6"/>
<text x="382.6" y="242.23" font-size="8.8">Prediction for M1</text>
<line x1="363.5" y1="250.0" x2="380.5" y2="250.0" stroke="#00ff00" stroke-width="1.8"/>
<path d="M372.00 246.60 L375.06 252.21 L368.94 252.21Z" fill="#00ff00"/>
<text x="382.6" y="252.73" font-size="8.8">Prediction for M2</text>
<text x="352" y="374" font-size="11" text-anchor="middle"><tspan font-style="italic">T</tspan> (°C)</text>
<text x="355" y="397.5" font-size="15.3" text-anchor="middle">(e)</text>
<text transform="translate(250.3,281.3) rotate(-90)" font-size="12" text-anchor="middle"><tspan font-style="italic" font-size="16">f</tspan><tspan font-size="9" dy="2.5" font-style="italic">s</tspan><tspan font-size="8.5" dy="-10" dx="0" font-style="italic">T</tspan><tspan dy="7.5" dx="1.5"> (MPa)</tspan></text>
</g>
</svg>
</body></html>
